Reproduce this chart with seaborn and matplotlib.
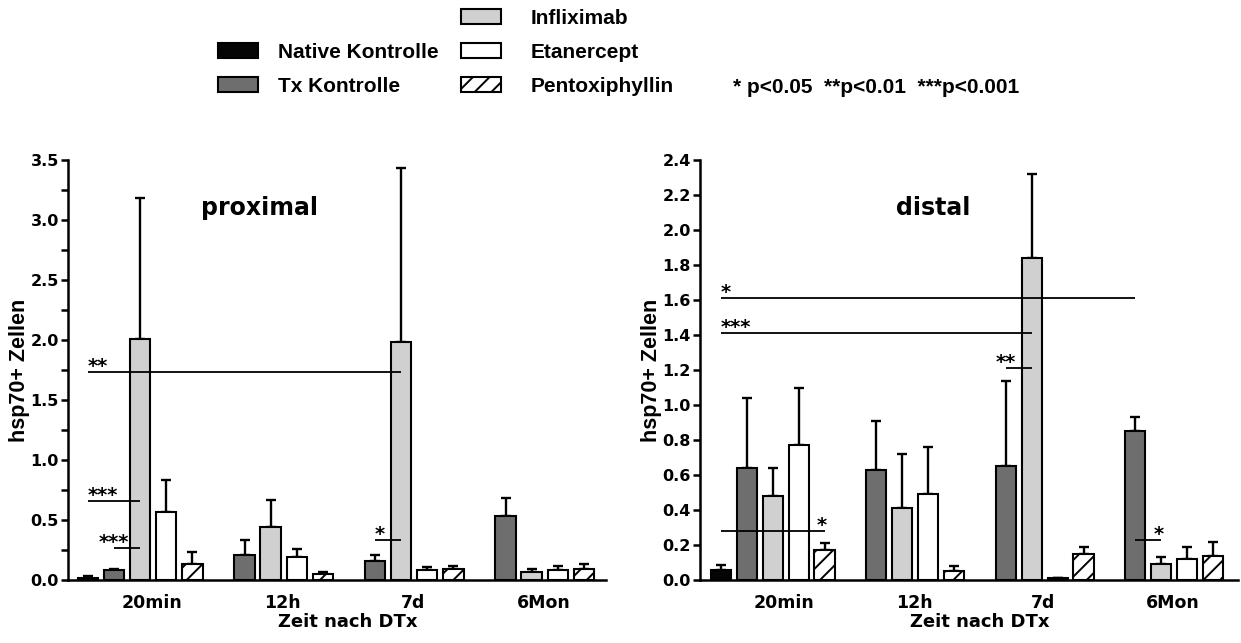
import numpy as np
import pandas as pd
import matplotlib
matplotlib.use("Agg")
import matplotlib.pyplot as plt
from matplotlib.patches import Patch, Rectangle
from matplotlib.ticker import MultipleLocator, FormatStrFormatter
import seaborn as sns

nan = np.nan

# ---------------- data ----------------
times = ["20min", "12h", "7d", "6Mon"]
groups = ["Native Kontrolle", "Tx Kontrolle", "Infliximab", "Etanercept", "Pentoxiphyllin"]

# proximal (means and upper SEM)
prox_native = [0.02, nan, nan, nan]
prox_tx = [0.08, 0.21, 0.16, 0.53]
prox_inflix = [2.01, 0.44, 1.98, 0.07]
prox_etan = [0.57, 0.19, 0.08, 0.08]
prox_pentox = [0.13, 0.05, 0.09, 0.09]
prox_native_err = [0.01, nan, nan, nan]
prox_tx_err = [0.01, 0.12, 0.05, 0.15]
prox_inflix_err = [1.17, 0.23, 1.45, 0.02]
prox_etan_err = [0.26, 0.07, 0.03, 0.04]
prox_pentox_err = [0.10, 0.02, 0.03, 0.04]

# distal
dist_native = [0.06, nan, nan, nan]
dist_tx = [0.64, 0.63, 0.65, 0.85]
dist_inflix = [0.48, 0.41, 1.84, 0.09]
dist_etan = [0.77, 0.49, 0.01, 0.12]
dist_pentox = [0.17, 0.05, 0.15, 0.14]
dist_native_err = [0.025, nan, nan, nan]
dist_tx_err = [0.40, 0.28, 0.49, 0.08]
dist_inflix_err = [0.16, 0.31, 0.48, 0.04]
dist_etan_err = [0.33, 0.27, 0.0, 0.07]
dist_pentox_err = [0.04, 0.03, 0.04, 0.075]

# significance brackets: (label, y, (time, group) start, (time, group) end, text placement)
prox_sig = [
    ("**", 1.73, (0, 0), (2, 2), "start"),
    ("***", 0.66, (0, 0), (0, 2), "start"),
    ("***", 0.27, (0, 1), (0, 2), "center_start"),
    ("*", 0.33, (2, 1), (2, 2), "start"),
]
dist_sig = [
    ("*", 1.61, (0, 0), (3, 1), "start"),
    ("***", 1.41, (0, 0), (2, 2), "start"),
    ("**", 1.21, (2, 1), (2, 2), "center_start"),
    ("*", 0.28, (0, 0), (0, 4), "end"),
    ("*", 0.23, (3, 1), (3, 2), "end"),
]

pvalue_text = "* p<0.05  **p<0.01  ***p<0.001"

colors = ["#050505", "#6e6e6e", "#d0d0d0", "#ffffff", "#ffffff"]
hatches = [None, None, None, None, "//"]
palette = dict(zip(groups, colors))

# ---------------- style ----------------
sns.set_style("ticks")
plt.rcParams["font.family"] = ["DejaVu Sans"]
plt.rcParams["font.weight"] = "bold"
plt.rcParams["hatch.linewidth"] = 1.4
plt.rcParams["hatch.color"] = "black"
for k in ["text.color", "axes.labelcolor", "xtick.color", "ytick.color",
          "xtick.labelcolor", "ytick.labelcolor"]:
    plt.rcParams[k] = "black"

W, H = 1241, 643
fig = plt.figure(figsize=(W / 100, H / 100), dpi=100)
fig.patch.set_facecolor("white")

ax_l = fig.add_axes([68 / W, 1 - 580 / H, 538 / W, 420 / H])
ax_r = fig.add_axes([700 / W, 1 - 580 / H, 538 / W, 420 / H])


def draw_panel(ax, vals, errs, sig, ymax, ystep, minor, title, title_x, xlim):
    rows = []
    for g, grp in enumerate(groups):
        for t, tm in enumerate(times):
            v = vals[g][t]
            if not np.isnan(v):
                rows.append(dict(time=tm, group=grp, value=v))
    df = pd.DataFrame(rows)
    sns.barplot(data=df, x="time", y="value", hue="group", order=times,
                hue_order=groups, palette=palette, width=1.0, gap=0.22,
                errorbar=None, edgecolor="black", linewidth=1.5,
                saturation=1, legend=False, ax=ax)

    # locate bars drawn by seaborn
    bar_x = {}
    for p in ax.patches:
        if not isinstance(p, Rectangle) or p.get_width() <= 0:
            continue
        cx = p.get_x() + p.get_width() / 2
        t = int(round(cx))
        g = int(round((cx - t) / 0.2 + 2))
        bar_x[(t, g)] = cx
        if hatches[g]:
            p.set_hatch(hatches[g])
        e = errs[g][t]
        if not np.isnan(e):
            ax.errorbar(cx, p.get_height(), yerr=[[0], [e]], fmt="none",
                        ecolor="black", elinewidth=1.7, capsize=3.8,
                        capthick=1.7, zorder=0.8)

    # significance lines
    for lab, y, s, e, place in sig:
        x1, x2 = bar_x[s], bar_x[e]
        ax.plot([x1, x2], [y, y], color="black", lw=1.3, zorder=3,
                solid_capstyle="butt")
        if place == "start":
            ax.annotate(lab, (x1, y), xytext=(0, 0), textcoords="offset points",
                        ha="left", va="baseline", fontsize=14, fontweight="bold")
        elif place == "center_start":
            ax.annotate(lab, (x1, y), xytext=(0, 0), textcoords="offset points",
                        ha="center", va="baseline", fontsize=14, fontweight="bold")
        else:
            ax.annotate(lab, (x2, y), xytext=(-2, 0), textcoords="offset points",
                        ha="center", va="baseline", fontsize=14, fontweight="bold")

    ax.set_xlim(*xlim)
    ax.set_ylim(0, ymax)
    ax.set_yticks(np.arange(0, ymax + 1e-9, ystep))
    ax.yaxis.set_major_formatter(FormatStrFormatter("%.1f"))
    if minor:
        ax.yaxis.set_minor_locator(MultipleLocator(minor))
        ax.tick_params(axis="y", which="minor", length=5, width=1.8)
    ax.tick_params(axis="y", which="major", length=5, width=1.8, pad=1.5,
                   labelsize=11.5, colors="black")
    ax.set_xticks(np.arange(len(times)) + 0.09, times)
    ax.tick_params(axis="x", length=0, pad=10, labelsize=12.5, colors="black")
    for lab in ax.get_xticklabels() + ax.get_yticklabels():
        lab.set_fontweight("bold")

    for side in ["top", "right"]:
        ax.spines[side].set_visible(False)
    for side in ["left", "bottom"]:
        ax.spines[side].set_linewidth(1.8)
        ax.spines[side].set_color("black")

    ax.set_xlabel("Zeit nach DTx", fontsize=13, fontweight="bold", x=0.52,
                  labelpad=1, color="black")
    ax.set_ylabel("hsp70+ Zellen", family=["Liberation Sans", "DejaVu Sans"],
                  fontsize=15.5, fontweight="bold", va="center", color="black")
    ax.yaxis.set_label_coords(-0.09, 0.5)
    ax.text(title_x, 0.869, title, transform=ax.transAxes, ha="center",
            va="baseline", fontsize=17, fontweight="bold", color="black")
    ax.set_facecolor("white")


prox_vals = [prox_native, prox_tx, prox_inflix, prox_etan, prox_pentox]
prox_errs = [prox_native_err, prox_tx_err, prox_inflix_err, prox_etan_err, prox_pentox_err]
dist_vals = [dist_native, dist_tx, dist_inflix, dist_etan, dist_pentox]
dist_errs = [dist_native_err, dist_tx_err, dist_inflix_err, dist_etan_err, dist_pentox_err]

draw_panel(ax_l, prox_vals, prox_errs, prox_sig, 3.5, 0.5, 0.25, "proximal", 0.356,
           (-0.553, 3.57))
draw_panel(ax_r, dist_vals, dist_errs, dist_sig, 2.4, 0.2, None, "distal", 0.433,
           (-0.562, 3.593))

# ---------------- legend ----------------
handles = [Patch(facecolor=c, edgecolor="black", linewidth=1.5, hatch=h)
           for c, h in zip(colors, hatches)]
leg_font = dict(family=["Liberation Sans", "DejaVu Sans"], weight="bold", size=15)
leg1 = fig.legend(handles[:2], groups[:2], loc="upper left",
                  bbox_to_anchor=(218 / W, 1 - 43 / H), frameon=False, prop=leg_font,
                  handlelength=1.9, handleheight=0.72, handletextpad=1.0,
                  labelspacing=0.72, borderpad=0, borderaxespad=0)
leg2 = fig.legend(handles[2:], groups[2:], loc="upper left",
                  bbox_to_anchor=(461 / W, 1 - 9 / H), frameon=False, prop=leg_font,
                  handlelength=1.9, handleheight=0.72, handletextpad=1.43,
                  labelspacing=0.72, borderpad=0, borderaxespad=0)
for lg in (leg1, leg2):
    for tx in lg.get_texts():
        tx.set_color("black")
fig.text(733 / W, 1 - 93 / H, pvalue_text, family=["Liberation Sans", "DejaVu Sans"],
         weight="bold", size=15, ha="left", va="baseline", color="black")

fig.savefig("out.png", dpi=100, facecolor="white")
